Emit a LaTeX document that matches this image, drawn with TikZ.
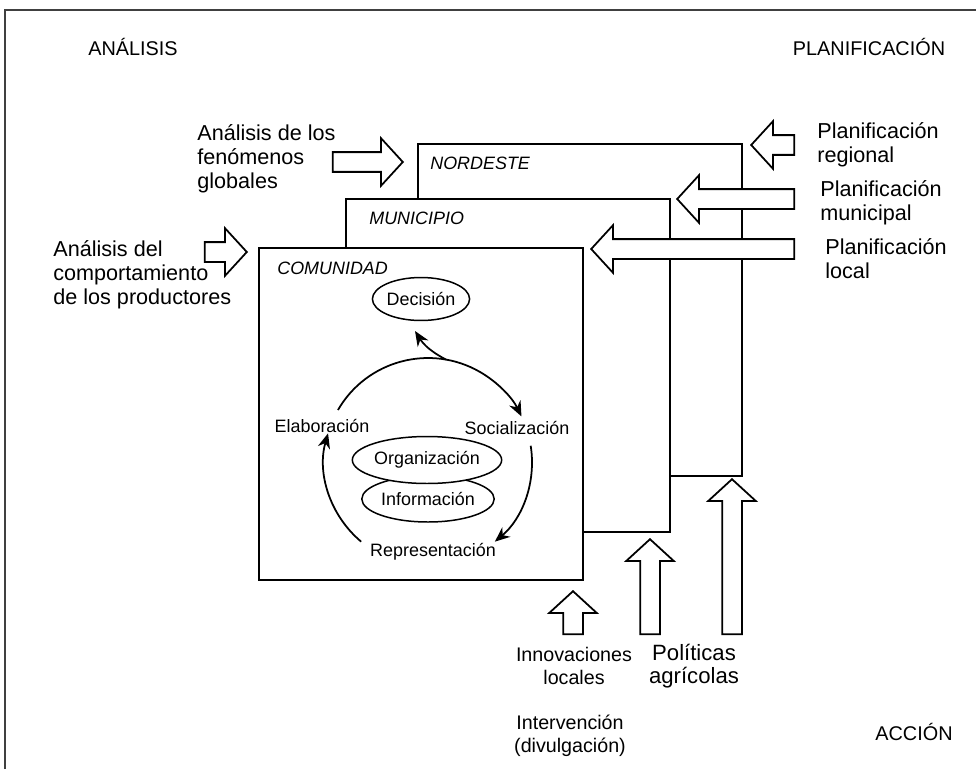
\documentclass[tikz,border=0pt]{standalone}
\usepackage{fontspec}
\setmainfont{Liberation Sans}
\usetikzlibrary{arrows.meta,shapes.geometric,shapes.arrows,positioning}
\tikzset{
  ttl/.style={font=\fontsize{11.3}{13}\selectfont,inner sep=0pt},
  lbl/.style={font=\fontsize{12.3}{13.8}\selectfont,align=left,inner sep=0pt,anchor=west},
  lblc/.style={font=\fontsize{11.2}{13.2}\selectfont,align=center,inner sep=0pt},
  lvl/.style={font=\fontsize{10.2}{12}\selectfont\itshape,inner sep=0pt,anchor=west},
  stg/.style={font=\fontsize{10.2}{12}\selectfont,inner sep=0pt},
  lay/.style={rectangle,draw=black,fill=white,line width=1pt,anchor=north west,
    minimum width=6.48cm,minimum height=6.64cm,inner sep=0pt},
  ovl/.style={ellipse,draw=black,fill=white,line width=.85pt,inner sep=0pt,
    font=\fontsize{10.2}{12}\selectfont},
  blk/.style={single arrow,draw=black,fill=white,line width=1pt,inner xsep=0pt,
    inner ysep=.18cm,single arrow head extend=.28cm,single arrow tip angle=95,anchor=tip},
  blkv/.style={blk,shape border rotate=90,inner xsep=.18cm,inner ysep=0pt},
  cyc/.style={-{Stealth[length=3mm,width=2.5mm]},line width=1pt},
  frm/.style={draw=black!75,line width=1pt},
}

\begin{document}
\begin{tikzpicture}[x=0.02cm,y=0.02cm]
\useasboundingbox (0,0) rectangle (976,769);
% ---------- frame and corner titles ----------
\draw[frm] (5,0) -- (5,759) -- (976,759);
\node[ttl] (ana) at (133,722) {ANÁLISIS};
\node[ttl] (pla) at (869,722) {PLANIFICACIÓN};
\node[ttl] (acc) at (914,37) {ACCIÓN};
% ---------- the three nested levels ----------
\node[lay] (nor) at (417,626) {};
\node[lay,minimum height=6.66cm] (mun) at (345,571) {};
\node[lay] (com) at (258,522) {};
\node[lvl] (tnor) at (430,606) {NORDESTE};
\node[lvl] (tmun) at (369,551) {MUNICIPIO};
\node[lvl] (tcomu) at (277,501) {COMUNIDAD};
% ---------- block arrows: analysis (left), planning (right), action (bottom) ----------
\node[blk,minimum height=1.40cm] (afen) at (404,607) {};
\node[blk,minimum height=.84cm] (acom) at (248,517) {};
\node[blk,shape border rotate=180,minimum height=.86cm] (preg) at (750,624) {};
\node[blk,shape border rotate=180,minimum height=2.34cm] (pmun) at (676,570) {};
\node[blk,shape border rotate=180,minimum height=4.06cm] (ploc) at (590,520) {};
\node[blkv,minimum height=.86cm] (ainn) at (573,179) {};
\node[blkv,minimum height=1.90cm] (apol) at (650,231) {};
\node[blkv,minimum height=3.10cm] (apolb) at (732,291) {};
\node[lbl] (tfen) at (197,610) {Análisis de los\\fenómenos\\globales};
\node[lbl] (tcom) at (53,494) {Análisis del\\comportamiento\\de los productores};
\node[lbl] (treg) at (817,624) {Planificación\\regional};
\node[lbl] (tpmun) at (820,566) {Planificación\\municipal};
\node[lbl] (tloc) at (825,510) {Planificación\\local};
\node[lblc] (tinn) at (574,103) {Innovaciones\\locales};
\node[lblc,font=\fontsize{12.6}{13.2}\selectfont] (tpol) at (694,103) {Políticas\\agrícolas};
\node[lblc] (tint) at (570,33) {Intervención\\(divulgación)};
% ---------- the community cycle ----------
\coordinate (cc) at (428,307);
\node[ovl,minimum width=1.84cm,minimum height=.86cm] (dec) at (421,470) {Decisión};
\node[ovl,minimum width=2.52cm,minimum height=.92cm] (inf) at (428,270) {Información};
\node[ovl,minimum width=2.52cm,minimum height=.94cm] (org) at (427,309) {Organización};
\node[stg] (ela) at (322,343) {Elaboración};
\node[stg] (soc) at (517,341) {Socialización};
\node[stg] (rep) at (433,217) {Representación};
\draw[cyc] ([shift={(150:2.08cm)}]cc) arc[start angle=150,end angle=26,radius=2.08cm];
\draw[cyc] ([shift={(9:2.08cm)}]cc) arc[start angle=9,end angle=-50,radius=2.08cm];
\draw[cyc] ([shift={(230:2.08cm)}]cc) arc[start angle=230,end angle=164,radius=2.08cm];
\coordinate (dtop) at ([shift={(80:2.08cm)}]cc);
\coordinate (dtip) at (415,438);
\draw[cyc] (dtop) to[bend left=15] (dtip);
\end{tikzpicture}
\end{document}
